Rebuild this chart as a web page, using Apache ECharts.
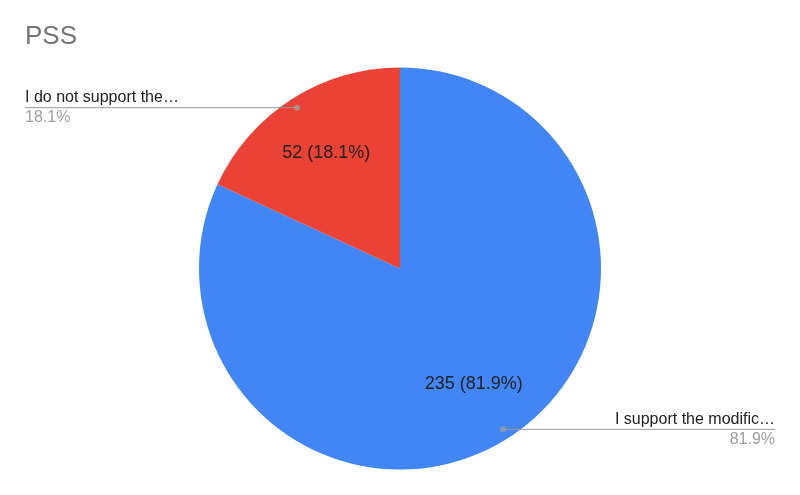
<!DOCTYPE html>
<html>
<head>
<meta charset="utf-8">
<script src="https://cdn.jsdelivr.net/npm/echarts@6/dist/echarts.min.js"></script>
<style>
html,body{margin:0;padding:0;background:#fff;}
#main{width:800px;height:495px;}
</style>
</head>
<body>
<div id="main"></div>
<script>
// ---- data ----
const title = 'PSS';
const categories = ['I support the modific…', 'I do not support the…'];
const values = [235, 52];
const colors = ['#4285F4', '#EA4335'];

// ---- layout ----
const FONT = 'Arial, "Liberation Sans", sans-serif';
const CENTER = [400, 268.5];
const R = 201;

const total = values.reduce((a, b) => a + b, 0);
const mids = [];
let acc = 0;
values.forEach(v => { mids.push(acc + v / 2); acc += v; });

const pieData = categories.map((c, i) => ({ name: c, value: values[i], itemStyle: { color: colors[i] } }));
const ghostData = categories.map((c, i) => ({ name: c, value: values[i] }));

const chart = echarts.init(document.getElementById('main'));
const option = {
  animation: false,
  backgroundColor: '#ffffff',
  title: {
    text: title, left: 25, top: 24, padding: 0,
    textStyle: { fontFamily: FONT, fontSize: 26, fontWeight: 'normal', color: '#757575', lineHeight: 26 }
  },
  polar: { center: CENTER, radius: R },
  angleAxis: { type: 'value', min: 0, max: total, startAngle: 90, clockwise: true, show: false },
  radiusAxis: { type: 'value', min: 0, max: 1, show: false },
  series: [
    {
      type: 'pie', center: CENTER, radius: R, startAngle: 90, silent: true,
      data: pieData, label: { show: false }, labelLine: { show: false },
      itemStyle: { borderWidth: 0 }
    },
    {
      type: 'pie', center: CENTER, radius: [R / 3, R], startAngle: 90, silent: true,
      data: ghostData,
      itemStyle: { color: 'transparent', borderWidth: 0 },
      label: {
        show: true, position: 'inside', fontFamily: FONT, fontSize: 18, color: '#222',
        formatter: p => p.value + ' (' + p.percent.toFixed(1) + '%)'
      },
      labelLine: { show: false }
    },
    {
      type: 'pie', center: CENTER, radius: R * 0.95, startAngle: 90, silent: true,
      data: ghostData, z: 5,
      itemStyle: { color: 'transparent', borderWidth: 0 },
      label: {
        show: true, position: 'outside', fontFamily: FONT,
        formatter: p => '{n|' + p.name + '}\n{p|' + p.percent.toFixed(1) + '%}',
        rich: {
          n: { fontFamily: FONT, fontSize: 16, color: '#222', lineHeight: 20 },
          p: { fontFamily: FONT, fontSize: 16, color: '#9e9e9e', lineHeight: 20 }
        }
      },
      labelLine: { show: true, length: 0, length2: 10, lineStyle: { color: '#999999', width: 1 } },
      labelLayout: function (params) {
        const pts = params.labelLinePoints;
        if (!pts) return {};
        const p0 = pts[0];
        const isLeft = p0[0] < CENTER[0];
        const edge = isLeft ? 25 : 775;
        return {
          x: edge, y: p0[1], align: isLeft ? 'left' : 'right', verticalAlign: 'middle',
          labelLinePoints: [p0, p0, [edge, p0[1]]]
        };
      }
    },
    {
      type: 'scatter', coordinateSystem: 'polar', silent: true, z: 10,
      data: mids.map(m => [0.95, m]),
      symbol: 'circle', symbolSize: 6,
      itemStyle: { color: '#9e9e9e' }
    }
  ]
};
chart.setOption(option);
</script>
</body>
</html>
